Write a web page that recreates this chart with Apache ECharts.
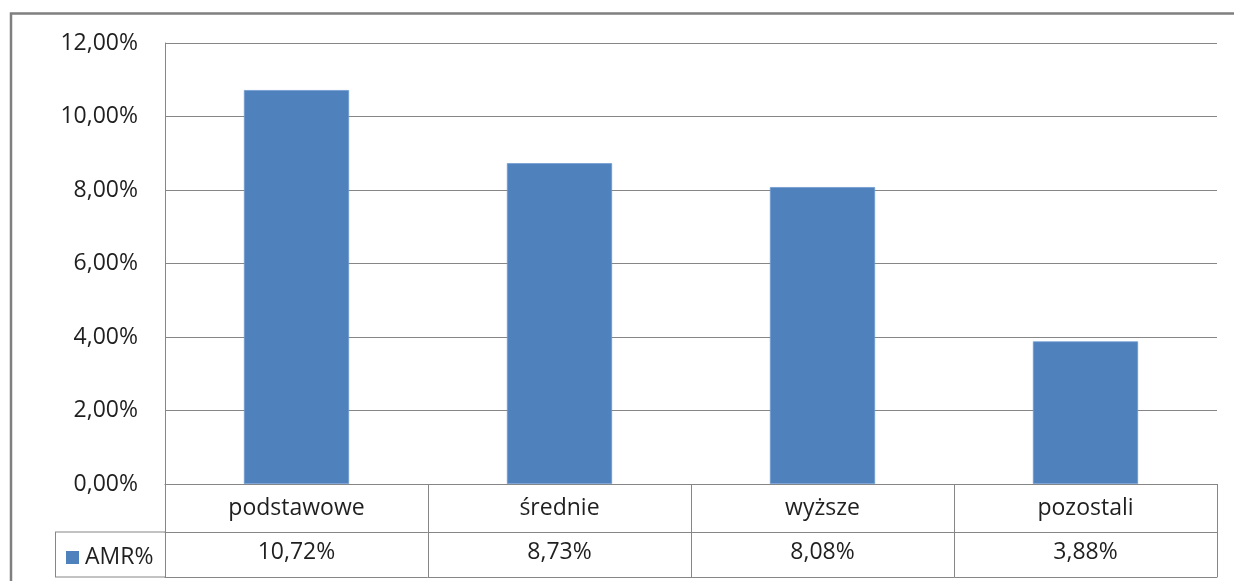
<!DOCTYPE html>
<html>
<head>
<meta charset="utf-8">
<script src="https://cdn.jsdelivr.net/npm/echarts@6/dist/echarts.min.js"></script>
<style>
html,body{margin:0;padding:0;background:#fff;}
#chart{width:1234px;height:581px;}
</style>
</head>
<body>
<div id="chart"></div>
<script>
const categories = ['podstawowe', 'średnie', 'wyższe', 'pozostali'];
const seriesName = 'AMR%';
const values = [10.72, 8.73, 8.08, 3.88];
const yMin = 0, yMax = 12, yInterval = 2;

const fmt = v => v.toFixed(2).replace('.', ',') + '%';
const valueLabels = values.map(fmt);

const FONT = 'Open Sans';
const FS = 23;
const TXT = '#1f1f1f';
const LINE = '#868686';
const BAR = '#4F81BD';

const chart = echarts.init(document.getElementById('chart'));
chart.setOption({
  animation: false,
  backgroundColor: '#fff',
  textStyle: { fontFamily: FONT },
  grid: { left: 165, right: 17, top: 43, bottom: 97 },
  legend: {
    data: [seriesName],
    left: 66, top: 546, padding: 0,
    icon: 'rect', itemWidth: 13, itemHeight: 13,
    itemStyle: { borderWidth: 0 },
    textStyle: { fontFamily: FONT, fontSize: FS, color: TXT, padding: [0, 0, 0, 1] },
    selectedMode: false
  },
  xAxis: [
    {
      type: 'category', data: categories, position: 'bottom',
      axisLine: { show: true, lineStyle: { color: LINE, width: 1 } },
      axisTick: { show: true, interval: 0, length: 93, lineStyle: { color: LINE, width: 1 } },
      axisLabel: { interval: 0, margin: 13, fontFamily: FONT, fontSize: FS, color: TXT }
    },
    {
      type: 'category', data: valueLabels, position: 'bottom', offset: 48,
      axisLine: { show: true, lineStyle: { color: LINE, width: 1 } },
      axisTick: { show: false },
      axisLabel: { interval: 0, margin: 9, fontFamily: FONT, fontSize: FS, color: TXT }
    },
    {
      type: 'category', data: categories, position: 'bottom', offset: 93,
      axisLine: { show: true, lineStyle: { color: LINE, width: 1 } },
      axisTick: { show: false },
      axisLabel: { show: false }
    }
  ],
  yAxis: {
    type: 'value', min: yMin, max: yMax, interval: yInterval,
    axisLine: { show: true, lineStyle: { color: LINE, width: 1 } },
    axisTick: { show: false },
    splitLine: { show: true, lineStyle: { color: LINE, width: 1 } },
    axisLabel: { margin: 27, fontFamily: FONT, fontSize: FS, color: TXT, formatter: v => fmt(v) }
  },
  series: [{
    name: seriesName, type: 'bar', data: values, xAxisIndex: 0,
    barWidth: '40%',
    itemStyle: { color: BAR, borderColor: '#6f9bd0', borderWidth: 0.8 }
  }],
  graphic: [
    { type: 'rect', shape: { x: 11, y: 13.5, width: 1400, height: 800 }, style: { fill: 'none', stroke: '#7f7f7f', lineWidth: 2.5 }, silent: true },
    { type: 'line', shape: { x1: 55, y1: 532, x2: 165, y2: 532 }, style: { stroke: LINE, lineWidth: 1 }, silent: true },
    { type: 'line', shape: { x1: 55, y1: 577, x2: 165, y2: 577 }, style: { stroke: LINE, lineWidth: 1 }, silent: true },
    { type: 'line', shape: { x1: 55.5, y1: 532, x2: 55.5, y2: 577 }, style: { stroke: LINE, lineWidth: 1 }, silent: true }
  ]
});
</script>
</body>
</html>
